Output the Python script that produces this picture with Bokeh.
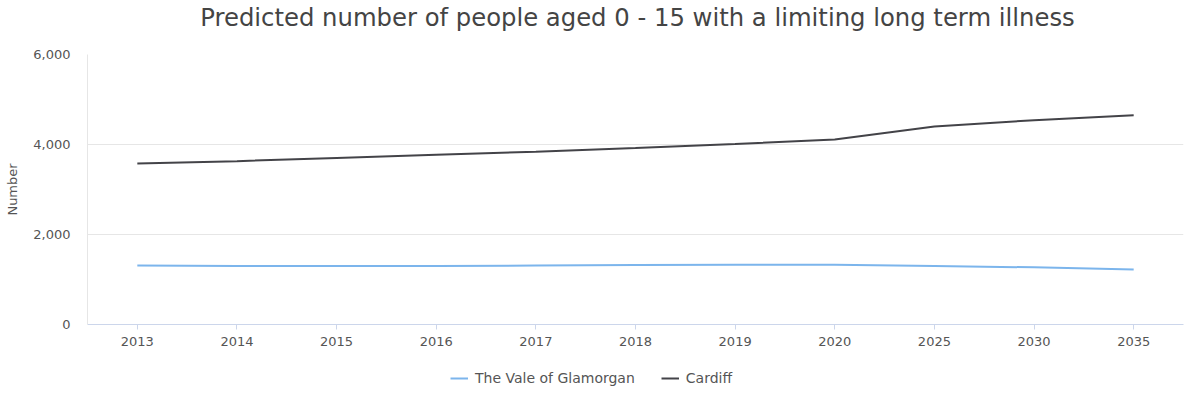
from bokeh.plotting import figure
from bokeh.layouts import column
from bokeh.models import NumeralTickFormatter, Legend, LegendItem, Range1d, FactorRange, Label
from bokeh.embed import file_html
from bokeh.resources import INLINE

years = ["2013", "2014", "2015", "2016", "2017", "2018", "2019", "2020", "2025", "2030", "2035"]
vale = [1310, 1300, 1300, 1300, 1310, 1320, 1330, 1330, 1300, 1270, 1220]
cardiff = [3580, 3630, 3700, 3770, 3840, 3920, 4010, 4110, 4400, 4540, 4650]

title_text = "Predicted number of people aged 0 - 15 with a limiting long term illness"
y_label = "Number"
names = ["The Vale of Glamorgan", "Cardiff"]
colors = ["#7cb5ec", "#434348"]
FONT = "DejaVu Sans"
W = 1187


def bare(fig):
    fig.outline_line_color = None
    fig.background_fill_color = "white"
    fig.border_fill_color = "white"
    fig.xgrid.grid_line_color = None
    fig.ygrid.grid_line_color = None


# ---- title strip ----
pt = figure(width=W, height=40, x_range=Range1d(0, 1), y_range=Range1d(0, 1),
            output_backend="svg", toolbar_location=None,
            x_axis_location=None, y_axis_location=None, min_border=0)
bare(pt)
pt.add_layout(Label(x=550, y=23, x_units="screen", y_units="screen", text=title_text,
                    text_align="center", text_baseline="alphabetic", text_font=FONT,
                    text_font_size="24.3px", text_color="#444444"))

# ---- main chart ----
p = figure(width=W, height=320, x_range=FactorRange(*years), y_range=Range1d(0, 6000),
           output_backend="svg", toolbar_location=None,
           min_border_left=87, min_border_right=4, min_border_top=14, min_border_bottom=36)
bare(p)
p.line(years, vale, line_color=colors[0], line_width=2)
p.line(years, cardiff, line_color=colors[1], line_width=2)

p.ygrid.grid_line_color = "#e6e6e6"
p.ygrid.ticker = [0, 2000, 4000, 6000]

p.yaxis.ticker = [0, 2000, 4000, 6000]
p.yaxis.formatter = NumeralTickFormatter(format="0,0")
p.yaxis.axis_line_color = "#e6e6e6"
p.yaxis.major_tick_line_color = None
p.yaxis.major_tick_out = 0
p.yaxis.minor_tick_line_color = None
p.yaxis.major_label_text_font = FONT
p.yaxis.major_label_text_font_size = "13px"
p.yaxis.major_label_text_color = "#555555"
p.yaxis.major_label_standoff = 17
p.yaxis.axis_label = y_label
p.yaxis.axis_label_text_font = FONT
p.yaxis.axis_label_text_font_size = "13px"
p.yaxis.axis_label_text_color = "#555555"
p.yaxis.axis_label_text_font_style = "normal"
p.yaxis.axis_label_standoff = 10

p.xaxis.axis_line_color = "#ccd6eb"
p.xaxis.major_tick_line_color = "#ccd6eb"
p.xaxis.major_tick_in = 0
p.xaxis.major_tick_out = 5
p.xaxis.major_label_text_font = FONT
p.xaxis.major_label_text_font_size = "13px"
p.xaxis.major_label_text_color = "#555555"
p.xaxis.major_label_standoff = 7

# ---- legend strip ----
pl = figure(width=W, height=37, x_range=FactorRange(*years), y_range=Range1d(100000, 100001),
            output_backend="svg", toolbar_location=None,
            x_axis_location=None, y_axis_location=None, min_border=0)
bare(pl)
l1 = pl.line(years, vale, line_color=colors[0], line_width=2)
l2 = pl.line(years, cardiff, line_color=colors[1], line_width=2)
legend = Legend(items=[LegendItem(label=names[0], renderers=[l1]),
                       LegendItem(label=names[1], renderers=[l2])],
                orientation="horizontal", location=(363, 11),
                label_text_font=FONT, label_text_font_size="14px", label_text_color="#555555",
                glyph_width=18, glyph_height=16, label_height=16, spacing=26,
                border_line_color=None, background_fill_alpha=0,
                margin=0, padding=0, label_standoff=7)
pl.add_layout(legend, "center")

layout = column(pt, p, pl, spacing=0)
open("out.html", "w").write(file_html(layout, INLINE))
